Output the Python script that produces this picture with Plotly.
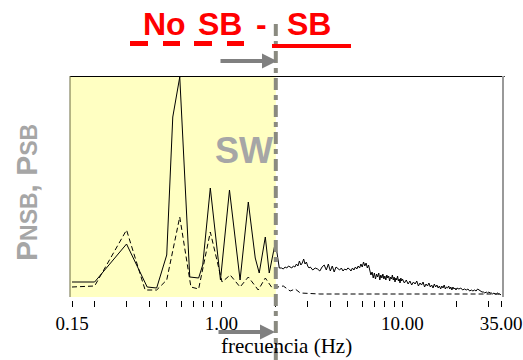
import math
import plotly.graph_objects as go

# ---------------- data ----------------
freq_nsb = [0.15, 0.20, 0.30, 0.39, 0.44, 0.50, 0.54, 0.59, 0.67, 0.75, 0.79, 0.87, 0.99,
            1.11, 1.27, 1.41, 1.54, 1.62, 1.75, 1.84, 1.99, 2.09,
            2.15, 2.20, 2.25, 2.30, 2.35, 2.40, 2.45, 2.50, 2.55, 2.60, 2.65, 2.70, 2.75,
            2.80, 2.85, 2.90, 2.95, 3.00, 3.05, 3.10, 3.20, 3.30, 3.40, 3.50, 3.60, 3.70,
            3.80, 3.90, 4.00, 4.10, 4.20, 4.30, 4.40, 4.50, 4.60, 4.70, 4.80, 4.90, 5.00,
            5.1, 5.2, 5.3, 5.4, 5.5, 5.6, 5.7, 5.8, 5.9, 6.0, 6.1, 6.2, 6.3, 6.4, 6.5, 6.6,
            6.7, 6.8, 6.9, 7.0, 7.1, 7.2, 7.3, 7.4, 7.5, 7.6, 7.7, 7.8, 7.9, 8.0, 8.1, 8.2,
            8.3, 8.4, 8.5, 8.6, 8.7, 8.8, 8.9, 9.0, 9.1, 9.2, 9.3, 9.4, 9.5, 9.6, 9.7, 9.8,
            9.9, 10.0,
            10.25, 10.5, 10.75, 11.0, 11.25, 11.5, 11.75, 12.0, 12.25, 12.5, 12.75, 13.0,
            13.25, 13.5, 13.75, 14.0, 14.25, 14.5, 14.75, 15.0, 15.25, 15.5, 15.75, 16.0,
            16.25, 16.5, 16.75, 17.0, 17.25, 17.5, 17.75, 18.0, 18.25, 18.5, 18.75, 19.0,
            19.25, 19.5, 19.75, 20.0,
            20.5, 21.0, 21.5, 22.0, 22.5, 23.0, 23.5, 24.0, 24.5, 25.0, 25.5, 26.0, 26.5,
            27.0, 27.5, 28.0, 28.5, 29.0, 29.5, 30.0, 30.5, 31.0, 31.5, 32.0, 32.5, 33.0,
            33.5, 34.0, 34.5, 35.0]
p_nsb = [15, 15, 53, 10, 9, 42, 180, 220, 20, 19, 32, 109, 17,
         107, 17, 95, 39, 24, 60, 24, 55, 29,
         29, 28, 30, 29, 31, 30, 29, 31, 30, 33, 31, 36, 32,
         34, 38, 33, 35, 31, 29, 30, 27, 29, 28, 26, 30, 32,
         27, 33, 26, 31, 25, 30, 28, 27, 29, 26, 28, 27, 29,
         28, 26, 29, 27, 30, 28, 31, 29, 33, 30, 35, 31, 34, 29, 32, 27,
         22, 25, 19, 24, 18, 23, 20, 24, 17, 22, 19, 23, 18, 21, 17, 22,
         19, 21, 16, 20, 18, 22, 17, 20, 15, 19, 17, 21, 16, 18, 14, 19,
         16, 18,
         14, 17, 13, 16, 12, 15, 13, 16, 11, 14, 12, 15,
         10, 13, 11, 14, 10, 12, 9, 13, 10, 12, 9, 11,
         8, 11, 9, 12, 8, 10, 9, 11, 8, 10, 7, 10,
         8, 9, 7, 9,
         8, 9, 7, 8, 7, 8, 6, 7, 6, 7, 6, 8, 7,
         6, 5, 5, 4, 5, 4, 5, 4, 4, 3, 4, 3, 3,
         4, 3, 3, 2]

freq_sb = [0.15, 0.20, 0.30, 0.38, 0.44, 0.50, 0.59, 0.68, 0.75, 0.87, 1.01, 1.12, 1.27,
           1.41, 1.60, 1.75, 1.91, 2.04, 2.20, 2.40, 2.56, 2.73, 3.5, 5.2, 9.8, 18.0, 35.0]
p_sb = [10, 11, 67, 7, 7, 17, 80, 10, 8, 65, 15, 22, 10,
        20, 7, 19, 9, 10, 11, 6, 8, 4, 3, 3, 3, 3, 3]

tick_vals = [0.15, 0.2, 0.3, 0.4, 0.5, 0.6, 0.7, 0.8, 0.9, 1.0,
             2, 3, 4, 5, 6, 7, 8, 9, 10, 20, 30, 35]
tick_text = ["0.15", "", "", "", "", "", "", "", "", "1.00",
             "", "", "", "", "", "", "", "", "10.00", "", "", "35.00"]
divider_freq = 2.0

# ---------------- layout geometry ----------------
W, H = 523, 360
ML, MR, MT, MB = 70, 20, 76, 60
PW = W - ML - MR
PH = H - MT - MB
pad = 2 / 181.0
xr = [math.log10(0.15) - pad, math.log10(35) + pad]
y_top = 221
yr = [-3, y_top]


def px_x(px):
    return (px - ML) / PW


def px_y(py):
    return (H - MB - py) / PH


div_x = (math.log10(divider_freq) - xr[0]) / (xr[1] - xr[0])

fig = go.Figure()
fig.add_trace(go.Scatter(x=freq_nsb, y=p_nsb, mode="lines",
                         line=dict(color="black", width=1), showlegend=False))
fig.add_trace(go.Scatter(x=freq_sb, y=p_sb, mode="lines",
                         line=dict(color="black", width=1, dash="5px,3px"), showlegend=False))

shapes = []
# yellow region
shapes.append(dict(type="rect", xref="paper", yref="y", x0=0, x1=div_x, y0=0, y1=y_top,
                   fillcolor="#FFFFC2", line=dict(width=0), layer="below"))
# frame
shapes.append(dict(type="line", xref="paper", yref="y", x0=0, x1=1.004, y0=y_top, y1=y_top,
                   line=dict(color="black", width=2)))
shapes.append(dict(type="line", xref="paper", yref="y", x0=0, x1=0, y0=0, y1=y_top,
                   line=dict(color="#6b6b40", width=1)))
shapes.append(dict(type="line", xref="paper", yref="y", x0=1, x1=1, y0=0, y1=y_top,
                   line=dict(color="#999999", width=2)))
# divider
shapes.append(dict(type="line", xref="paper", yref="paper", x0=div_x, x1=div_x,
                   y0=px_y(360), y1=px_y(20),
                   line=dict(color="#8a8a80", width=4, dash="12px,5px,5px,5px")))
# title underlines
for a, b in [(130, 148), (163, 180), (194, 212), (227, 244)]:
    shapes.append(dict(type="line", xref="paper", yref="paper", x0=px_x(a), x1=px_x(b),
                       y0=px_y(43.5), y1=px_y(43.5), line=dict(color="#FF0000", width=5)))
shapes.append(dict(type="line", xref="paper", yref="paper", x0=px_x(272), x1=px_x(351),
                   y0=px_y(46), y1=px_y(46), line=dict(color="#FF0000", width=4)))

annotations = []
title_font = dict(family="Liberation Sans, Arial", size=32, color="#FF0000")
for txt, x0 in [("No", 141), ("SB", 196), ("-", 254), ("SB", 285)]:
    annotations.append(dict(text="<b>%s</b>" % txt, xref="paper", yref="paper",
                            x=px_x(x0), y=px_y(24), xanchor="left", yanchor="middle",
                            showarrow=False, font=title_font))
# arrows
annotations.append(dict(xref="paper", yref="paper", x=px_x(277), y=px_y(61), ax=-58, ay=0,
                        text="", showarrow=True, arrowhead=2, arrowwidth=4, arrowsize=0.75,
                        arrowcolor="#808080"))
annotations.append(dict(xref="paper", yref="paper", x=px_x(275), y=px_y(332), ax=-58, ay=0,
                        text="", showarrow=True, arrowhead=2, arrowwidth=4, arrowsize=0.75,
                        arrowcolor="#808080"))
# SW
annotations.append(dict(text="<b>SW</b>", xref="paper", yref="paper", x=px_x(244), y=px_y(150),
                        xanchor="center", yanchor="middle", showarrow=False,
                        font=dict(family="Liberation Sans, Arial", size=36, color="#A6A6A6")))
# y label
annotations.append(dict(
    text="<b>P<span style='font-size:23px'>NSB</span>, P<span style='font-size:23px'>SB</span></b>",
    xref="paper", yref="paper", x=px_x(26), y=px_y(193), textangle=-90, showarrow=False,
    xanchor="center", yanchor="middle",
    font=dict(family="Liberation Sans, Arial", size=30, color="#A6A6A6")))
# x label
annotations.append(dict(text="frecuencia (Hz)", xref="paper", yref="paper", x=px_x(286),
                        y=px_y(346), xanchor="center", yanchor="middle", showarrow=False,
                        font=dict(family="Liberation Serif, Times New Roman", size=21,
                                  color="black")))

fig.update_layout(
    width=W, height=H, margin=dict(l=ML, r=MR, t=MT, b=MB, autoexpand=False),
    paper_bgcolor="white", plot_bgcolor="white",
    shapes=shapes, annotations=annotations, showlegend=False,
    xaxis=dict(type="log", range=xr, showgrid=False, zeroline=False, showline=False,
               automargin=False,
               ticks="outside", ticklen=6, tickwidth=1, tickcolor="black",
               tickvals=tick_vals, ticktext=tick_text,
               tickfont=dict(family="Liberation Serif, Times New Roman", size=19, color="black")),
    yaxis=dict(range=yr, visible=False, showgrid=False, zeroline=False, automargin=False),
)

fig.write_html("out.html", config={"displayModeBar": False},
               post_script="document.body.style.margin='0px';")
